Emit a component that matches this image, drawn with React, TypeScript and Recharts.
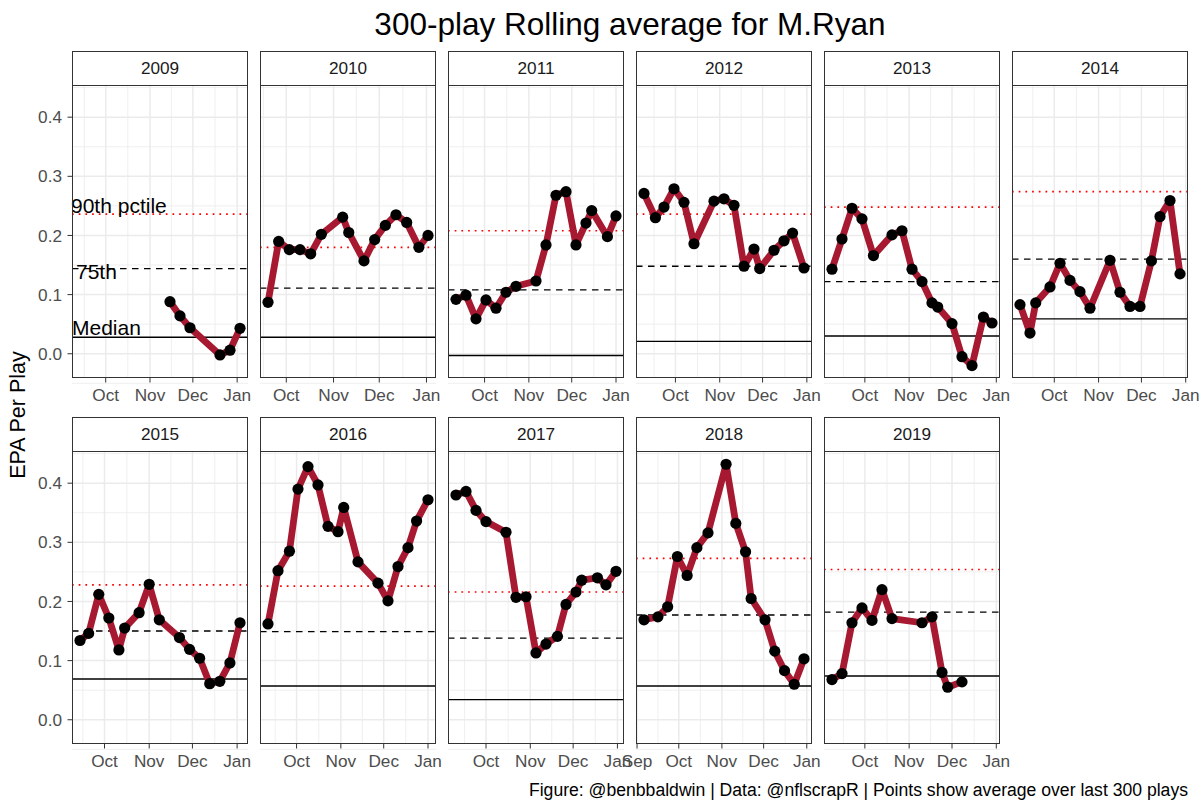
import React from "react";
import { LineChart, Line, XAxis, YAxis, CartesianGrid, ReferenceLine } from "recharts";

const FONT = "'Liberation Sans', Arial, Helvetica, sans-serif";

// seasons shown as facets
const seasons = [2009, 2010, 2011, 2012, 2013, 2014, 2015, 2016, 2017, 2018, 2019];

// game days (days since Sep 1 of the season) and 300-play rolling EPA
const days2009 = [75, 82, 89, 110, 117, 124];
const epa2009 = [0.088, 0.064, 0.044, -0.002, 0.006, 0.043];
const days2010 = [18, 25, 32, 39, 46, 53, 67, 71, 81, 88, 95, 102, 109, 117, 123];
const epa2010 = [0.087, 0.19, 0.176, 0.176, 0.169, 0.202, 0.231, 0.205, 0.157, 0.193, 0.217, 0.235, 0.222, 0.18, 0.2];
const days2011 = [10, 17, 24, 31, 38, 45, 52, 66, 73, 80, 87, 94, 101, 105, 116, 122];
const epa2011 = [0.092, 0.099, 0.059, 0.091, 0.077, 0.104, 0.114, 0.123, 0.184, 0.268, 0.274, 0.184, 0.221, 0.242, 0.198, 0.233];
const days2012 = [8, 16, 22, 29, 36, 43, 57, 64, 71, 78, 85, 89, 99, 106, 112, 120];
const epa2012 = [0.271, 0.23, 0.248, 0.279, 0.256, 0.186, 0.258, 0.262, 0.251, 0.148, 0.177, 0.144, 0.175, 0.191, 0.204, 0.145];
const days2013 = [7, 14, 21, 28, 36, 49, 56, 63, 70, 77, 81, 91, 98, 105, 113, 119];
const epa2013 = [0.143, 0.194, 0.246, 0.228, 0.166, 0.201, 0.208, 0.143, 0.122, 0.086, 0.079, 0.051, -0.005, -0.02, 0.062, 0.052];
const days2014 = [6, 13, 17, 27, 34, 41, 48, 55, 69, 76, 83, 90, 98, 104, 111, 118];
const epa2014 = [0.083, 0.035, 0.086, 0.113, 0.153, 0.124, 0.105, 0.077, 0.158, 0.104, 0.08, 0.08, 0.157, 0.232, 0.259, 0.135];
const days2015 = [13, 19, 26, 33, 40, 44, 54, 61, 68, 82, 89, 96, 103, 110, 117, 124];
const epa2015 = [0.134, 0.146, 0.212, 0.172, 0.118, 0.155, 0.181, 0.229, 0.169, 0.139, 0.119, 0.104, 0.061, 0.065, 0.096, 0.164];
const days2016 = [10, 17, 25, 31, 38, 45, 52, 59, 63, 73, 87, 94, 101, 108, 114, 122];
const epa2016 = [0.162, 0.252, 0.285, 0.39, 0.428, 0.397, 0.327, 0.318, 0.359, 0.267, 0.231, 0.201, 0.259, 0.291, 0.336, 0.372];
const days2017 = [9, 16, 23, 30, 44, 51, 58, 65, 72, 80, 86, 93, 97, 108, 114, 121];
const epa2017 = [0.38, 0.386, 0.354, 0.335, 0.317, 0.207, 0.208, 0.113, 0.128, 0.141, 0.195, 0.216, 0.236, 0.24, 0.228, 0.251];
const days2018 = [5, 15, 22, 29, 36, 43, 51, 64, 71, 78, 82, 92, 99, 106, 113, 120];
const epa2018 = [0.169, 0.174, 0.191, 0.276, 0.244, 0.291, 0.316, 0.432, 0.332, 0.284, 0.205, 0.169, 0.116, 0.083, 0.06, 0.103];
const days2019 = [7, 14, 21, 28, 35, 42, 49, 70, 77, 84, 88, 98];
const epa2019 = [0.068, 0.078, 0.164, 0.189, 0.168, 0.22, 0.171, 0.164, 0.174, 0.08, 0.055, 0.064];

const gameDays = [days2009, days2010, days2011, days2012, days2013, days2014, days2015, days2016, days2017, days2018, days2019];
const gameEpa = [epa2009, epa2010, epa2011, epa2012, epa2013, epa2014, epa2015, epa2016, epa2017, epa2018, epa2019];

// first / last game of each season (sets the x range)
const seasonSpans = [[12, 124], [18, 123], [10, 122], [8, 120], [7, 119], [6, 118], [13, 124], [10, 122], [9, 121], [5, 120], [7, 119]];

// league reference lines per season
const pct90 = [0.236, 0.18, 0.208, 0.236, 0.248, 0.274, 0.228, 0.226, 0.216, 0.273, 0.254];
const pct75 = [0.144, 0.111, 0.108, 0.148, 0.122, 0.16, 0.15, 0.149, 0.138, 0.177, 0.182];
const medians = [0.028, 0.028, -0.003, 0.021, 0.03, 0.059, 0.069, 0.057, 0.034, 0.057, 0.074];

const monthStarts = [0, 30, 61, 91, 122];
const monthLabels = ["Sep", "Oct", "Nov", "Dec", "Jan"];
const monthMids = [-15.5, 15, 45.5, 76, 106.5, 137.5];
const yTicks = [0, 0.1, 0.2, 0.3, 0.4];
const yMinor = [-0.05, 0.05, 0.15, 0.25, 0.35, 0.45];
const yDomain = [-0.041, 0.4544];

const PANEL_W = 176;
const PANEL_H = 293;
const X_AXIS_H = 30;
const SIDE = 22;
const ROW_TOPS = [85, 451];
const STRIP_H = 34;

function Panel({ idx }: { idx: number }) {
  const col = idx % 6;
  const row = Math.floor(idx / 6);
  const left = 72 + col * 188;
  const top = ROW_TOPS[row];
  const showY = col === 0;
  const yw = showY ? 40 : 0;
  const [a, b] = seasonSpans[idx];
  const pad = (b - a) * 0.05;
  const domain = [a - pad, b + pad];
  const ticks = monthStarts.filter((d) => d >= domain[0] && d <= domain[1]);
  const minor = monthMids.filter((d) => d > domain[0] && d < domain[1]);
  const data = gameDays[idx].map((d, i) => ({ day: d, epa: gameEpa[idx][i] }));
  const first = idx === 0;

  return (
    <>
      <div
        style={{
          position: "absolute",
          left,
          top: top - STRIP_H,
          width: PANEL_W,
          height: STRIP_H + 1,
          boxSizing: "border-box",
          border: "1.2px solid #333",
          background: "#fff",
          display: "flex",
          alignItems: "center",
          justifyContent: "center",
          fontSize: 17.2,
          color: "#1A1A1A",
        }}
      >
        {seasons[idx]}
      </div>
      <div style={{ position: "absolute", left: left - SIDE - yw, top, width: PANEL_W + 2 * SIDE + yw, height: PANEL_H + X_AXIS_H }}>
        <LineChart
          width={PANEL_W + 2 * SIDE + yw}
          height={PANEL_H + X_AXIS_H}
          data={data}
          margin={{ top: 0, right: SIDE, bottom: 0, left: SIDE }}
        >
          <CartesianGrid stroke="#EBEBEB" strokeWidth={0.8} horizontalValues={yMinor} verticalValues={minor} />
          <CartesianGrid stroke="#EBEBEB" strokeWidth={1.5} horizontalValues={yTicks} verticalValues={ticks} />
          <XAxis
            dataKey="day"
            type="number"
            domain={domain}
            allowDataOverflow
            ticks={ticks}
            interval={0}
            tickFormatter={(v: number) => monthLabels[monthStarts.indexOf(v)]}
            height={X_AXIS_H}
            axisLine={false}
            tickLine={{ stroke: "#333" }}
            tickSize={4.5}
            tickMargin={6}
            tick={{ fill: "#4D4D4D", fontSize: 17.2, fontFamily: FONT }}
          />
          <YAxis
            type="number"
            domain={yDomain}
            allowDataOverflow
            ticks={yTicks}
            interval={0}
            tickFormatter={(v: number) => v.toFixed(1)}
            width={40}
            hide={!showY}
            axisLine={false}
            tickLine={{ stroke: "#333" }}
            tickSize={4.5}
            tickMargin={5.5}
            tick={{ fill: "#4D4D4D", fontSize: 17.2, fontFamily: FONT }}
          />
          <ReferenceLine
            y={pct90[idx]}
            stroke="#FF0000"
            strokeWidth={1.7}
            strokeDasharray="1.7 5"
            label={
              first
                ? (p: any) => (
                    <text x={p.viewBox.x - 1} y={p.viewBox.y - 1} fontSize={21} fontFamily={FONT} fill="#000">
                      90th pctile
                    </text>
                  )
                : undefined
            }
          />
          <ReferenceLine
            y={pct75[idx]}
            stroke="#000"
            strokeWidth={1.4}
            strokeDasharray="6.5 5.5"
            label={
              first
                ? (p: any) => (
                    <text x={p.viewBox.x + 4} y={p.viewBox.y + 10} fontSize={21} fontFamily={FONT} fill="#000">
                      75th
                    </text>
                  )
                : undefined
            }
          />
          <ReferenceLine
            y={medians[idx]}
            stroke="#000"
            strokeWidth={1.4}
            label={
              first
                ? (p: any) => (
                    <text x={p.viewBox.x} y={p.viewBox.y - 2} fontSize={21} fontFamily={FONT} fill="#000">
                      Median
                    </text>
                  )
                : undefined
            }
          />
          <Line
            type="linear"
            dataKey="epa"
            stroke="#A71930"
            strokeWidth={6.8}
            strokeLinejoin="round"
            dot={{ r: 5.6, fill: "#000", stroke: "#000", strokeWidth: 0 }}
            activeDot={false}
            isAnimationActive={false}
          />
        </LineChart>
      </div>
      <div
        style={{
          position: "absolute",
          left,
          top,
          width: PANEL_W,
          height: PANEL_H,
          boxSizing: "border-box",
          border: "1.2px solid #333",
          pointerEvents: "none",
        }}
      />
    </>
  );
}

export default function App() {
  return (
    <div
      style={{
        position: "absolute",
        left: 0,
        top: 0,
        width: 1200,
        height: 809,
        background: "#fff",
        fontFamily: FONT,
        overflow: "hidden",
      }}
    >
      <svg width={1200} height={809} style={{ position: "absolute", left: 0, top: 0 }}>
        <text x={630} y={35} textAnchor="middle" fontSize={31.5} fontFamily={FONT} fill="#000">
          300-play Rolling average for M.Ryan
        </text>
        <text transform="translate(25,415) rotate(-90)" textAnchor="middle" fontSize={21.5} fontFamily={FONT} fill="#000">
          EPA Per Play
        </text>
        <text x={1188} y={796} textAnchor="end" fontSize={17.6} fontFamily={FONT} fill="#000">
          Figure: @benbbaldwin | Data: @nflscrapR | Points show average over last 300 plays
        </text>
      </svg>
      {seasons.map((s, i) => (
        <Panel key={s} idx={i} />
      ))}
    </div>
  );
}
